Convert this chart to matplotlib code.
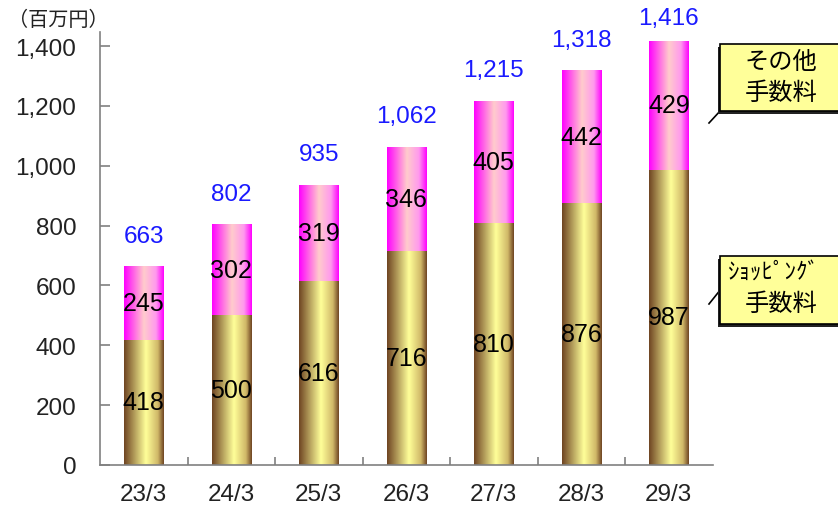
import numpy as np
import matplotlib
matplotlib.use("Agg")
import matplotlib.pyplot as plt
from matplotlib.colors import LinearSegmentedColormap
from matplotlib.patches import Rectangle
from matplotlib.lines import Line2D

plt.rcParams['font.family'] = ['Liberation Sans', 'Noto Sans CJK JP', 'DejaVu Sans']

# Fiscal year-end labels
periods = ["23/3", "24/3", "25/3", "26/3", "27/3", "28/3", "29/3"]
# Shopping commission (bottom) and other commission (top), millions of yen
shopping_fee = [418, 500, 616, 716, 810, 876, 987]
other_fee = [245, 302, 319, 346, 405, 442, 429]
totals = [663, 802, 935, 1062, 1215, 1318, 1416]
y_ticks = [0, 200, 400, 600, 800, 1000, 1200, 1400]

W, H = 838, 506
fig = plt.figure(figsize=(W / 100, H / 100), dpi=100)
ax = fig.add_axes([100 / W, 1 - 466 / H, 612.5 / W, 433 / H])

x = np.arange(len(periods))
bar_w = 0.45

gold = LinearSegmentedColormap.from_list(
    "gold", [(0.0, "#6e4422"), (0.55, "#ffff99"), (0.85, "#d0b868"), (1.0, "#6e4422")])
pink = LinearSegmentedColormap.from_list(
    "pink", [(0.0, "#ff00ff"), (0.5, "#ffcccc"), (0.8, "#ff99ee"), (1.0, "#ff00ff")])
grad = np.linspace(0, 1, 256).reshape(1, -1)

b1 = ax.bar(x, shopping_fee, bar_w, color="none", edgecolor="none")
b2 = ax.bar(x, other_fee, bar_w, bottom=shopping_fee, color="none", edgecolor="none")

for bars, cmap in ((b1, gold), (b2, pink)):
    for p in bars:
        x0, y0 = p.get_x(), p.get_y()
        ax.imshow(grad, cmap=cmap, aspect="auto", interpolation="bilinear",
                  extent=[x0, x0 + p.get_width(), y0, y0 + p.get_height()], zorder=2)

ax.set_xlim(-0.5, len(periods) - 0.5)
ax.set_ylim(0, 1447)

# Total labels sit above each bar but are kept clear of the figure's top edge
top_limit_px = H - 19  # highest allowed label centre, in display pixels
for i in range(len(periods)):
    ax.text(x[i], shopping_fee[i] / 2, f"{shopping_fee[i]}", ha="center", va="center",
            fontsize=18, color="black", zorder=3)
    ax.text(x[i], shopping_fee[i] + other_fee[i] / 2, f"{other_fee[i]}", ha="center",
            va="center", fontsize=18, color="black", zorder=3)
    bar_top_px = ax.transData.transform((x[i], totals[i]))[1]
    offset = min(31, (top_limit_px - bar_top_px)) * 72 / 100
    ax.annotate(f"{totals[i]:,}", (x[i], totals[i]), xytext=(0, offset),
                textcoords="offset points", ha="center", va="center",
                fontsize=17.5, color="#1a1aff", zorder=3)

ax.set_yticks(y_ticks)
ax.set_yticklabels([f"{v:,}" for v in y_ticks])
ax.set_xticks(x)
ax.set_xticklabels(periods)
ax.set_xticks(np.arange(0.5, len(periods) - 0.5, 1), minor=True)

for s in ("top", "right"):
    ax.spines[s].set_visible(False)
for s in ("left", "bottom"):
    ax.spines[s].set_color("#808080")
    ax.spines[s].set_linewidth(1.2)

ax.tick_params(axis="y", direction="in", length=7, width=1.2, color="#808080",
               pad=17, labelsize=17.5, labelcolor="#222222")
ax.tick_params(axis="x", which="major", length=0, pad=13, labelsize=17.5,
               labelcolor="#222222")
ax.tick_params(axis="x", which="minor", direction="in", length=6, width=1.2,
               color="#808080")

fig.text(8 / W, 1 - 20 / H, "（百万円）", fontsize=14.5, family=["Noto Sans CJK JP"],
         ha="left", va="center", color="#222222")


def px(xp, yp):
    return xp / W, 1 - yp / H


def callout(top, bottom, tip, corner, lines):
    (l, t), (r, b) = px(720, top), px(845, bottom)
    fig.patches.append(Rectangle((l - 2.5 / W, b - 2.5 / H), r - l, t - b,
                                 transform=fig.transFigure, facecolor="#222222",
                                 edgecolor="none", zorder=4))
    fig.patches.append(Rectangle((l, b), r - l, t - b, transform=fig.transFigure,
                                 facecolor="#ffff99", edgecolor="black",
                                 linewidth=1.2, zorder=5))
    (x0, y0), (x1, y1) = px(*tip), px(*corner)
    fig.lines.append(Line2D([x0, x1], [y0, y1], transform=fig.transFigure,
                            color="black", linewidth=1.2, zorder=4))
    for (cx, cy, s, fs) in lines:
        fig.text(cx / W, 1 - cy / H, s, fontsize=fs, ha="center", va="center",
                 family=["Noto Sans CJK JP"], color="black", zorder=6)


callout(45, 112, (709, 124), (721, 111),
        [(781, 62, "その他", 17.5), (781, 93, "手数料", 17.5)])
callout(257, 325, (709, 305), (721, 290),
        [(774, 272, "ｼｮｯﾋﾟﾝｸﾞ", 16.5), (781, 304, "手数料", 17.5)])

fig.savefig("out.png", dpi=100)
